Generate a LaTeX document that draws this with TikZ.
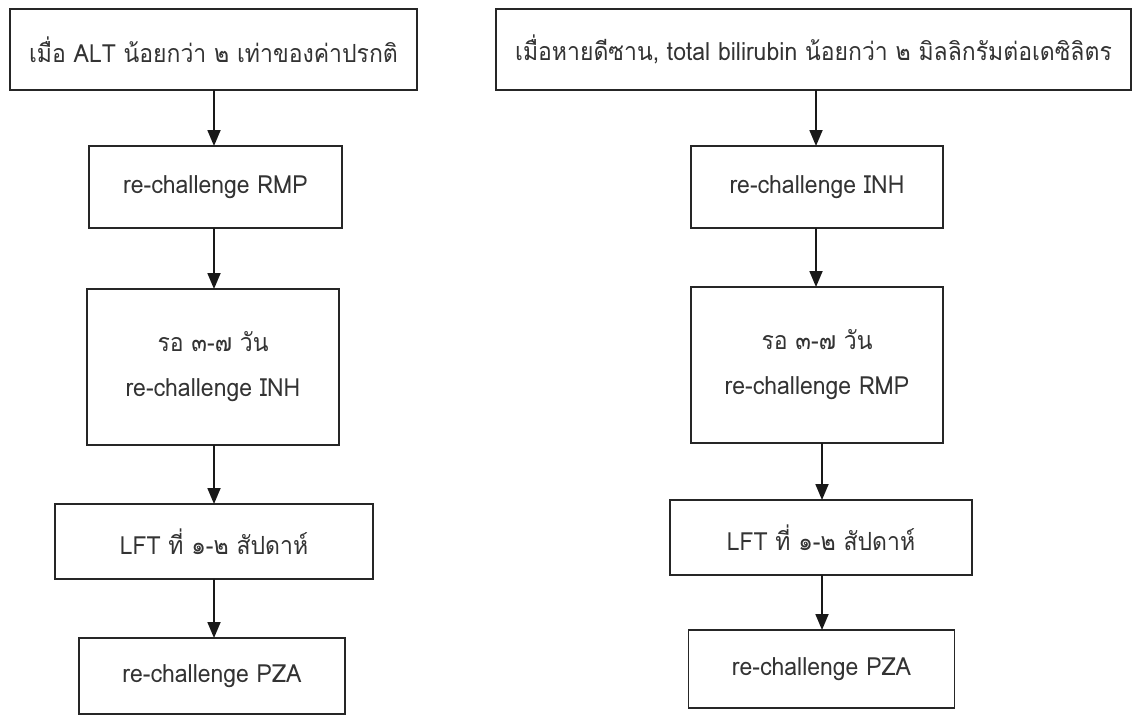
\documentclass[tikz,border=0pt]{standalone}
\usepackage{fontspec}
\setmainfont[Script=Thai, FakeStretch=0.92]{Loma}
\usetikzlibrary{arrows.meta}
\tikzset{
  box/.style={draw=black!85, line width=1.6pt, inner sep=0pt, outer sep=0pt, align=center,
    font=\fontsize{25}{45}\selectfont, text=black!80},
  flow/.style={line width=1.8pt, draw=black!90, -{Triangle[length=16pt,width=13pt]}}
}
\begin{document}
\begin{tikzpicture}[x=1pt,y=-1pt]
\useasboundingbox (0,0) rectangle (1133,716);
% left column
\node[box, minimum width=407pt, minimum height=81pt] (L1) at (213.5,49.5) {เมื่อ ALT น้อยกว่า ๒ เท่าของค่าปรกติ};
\node[box, minimum width=253pt, minimum height=82pt] (L2) at (215.5,187) {re-challenge RMP};
\node[box, minimum width=252pt, minimum height=156pt] (L3) at (213,367) {รอ ๓-๗ วัน\\re-challenge INH};
\node[box, minimum width=318pt, minimum height=75pt] (L4) at (214,541.5) {LFT ที่ ๑-๒ สัปดาห์};
\node[box, minimum width=266pt, minimum height=76pt] (L5) at (212,676) {re-challenge PZA};
% right column
\node[box, minimum width=635pt, minimum height=81pt] (R1) at (813.5,49.5) {เมื่อหายดีซาน, total bilirubin น้อยกว่า ๒ มิลลิกรัมต่อเดซิลิตร};
\node[box, minimum width=252pt, minimum height=82pt] (R2) at (817,187) {re-challenge INH};
\node[box, minimum width=252pt, minimum height=156pt] (R3) at (817,365) {รอ ๓-๗ วัน\\re-challenge RMP};
\node[box, minimum width=302pt, minimum height=75pt] (R4) at (821,537.5) {LFT ที่ ๑-๒ สัปดาห์};
\node[box, minimum width=266pt, minimum height=78pt] (R5) at (821.5,669) {re-challenge PZA};
% connectors
\coordinate (la) at (214,0);
\coordinate (ra1) at (816,0);
\coordinate (ra2) at (822,0);
\draw[flow] (L1.south -| la) -- (L2.north -| la);
\draw[flow] (L2.south -| la) -- (L3.north -| la);
\draw[flow] (L3.south -| la) -- (L4.north -| la);
\draw[flow] (L4.south -| la) -- (L5.north -| la);
\draw[flow] (R1.south -| ra1) -- (R2.north -| ra1);
\draw[flow] (R2.south -| ra1) -- (R3.north -| ra1);
\draw[flow] (R3.south -| ra2) -- (R4.north -| ra2);
\draw[flow] (R4.south -| ra2) -- (R5.north -| ra2);
\end{tikzpicture}
\end{document}
